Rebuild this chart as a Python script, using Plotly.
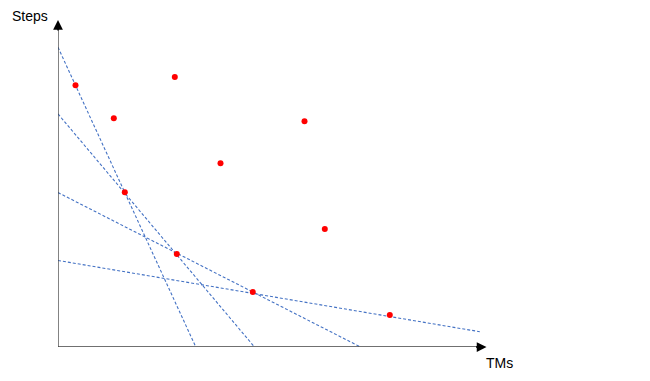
import plotly.graph_objects as go

# Scatter points (TMs, Steps) in chart units
tms = [17.5, 55.8, 116.8, 246.5, 162.5, 66.8, 266.8, 118.8, 194.8, 331.8]
steps = [262, 229, 270.3, 226, 184, 155, 118, 93, 55, 32]

# Dashed lines: start and end points
line_x0 = [0, 0, 0, 0]
line_y0 = [300, 233.3, 154.6, 86.6]
line_x1 = [137.8, 196.5, 302.5, 421.8]
line_y1 = [0, 0, 0, 15.3]

x_label = "TMs"
y_label = "Steps"

fig = go.Figure()
for x0, y0, x1, y1 in zip(line_x0, line_y0, line_x1, line_y1):
    fig.add_trace(go.Scatter(
        x=[x0, x1], y=[y0, y1], mode="lines",
        line=dict(color="#4472C4", width=1.1, dash="3px,2px"),
        hoverinfo="skip", showlegend=False))

fig.add_trace(go.Scatter(
    x=tms, y=steps, mode="markers",
    marker=dict(color="#FF0000", size=6, line=dict(width=0)),
    showlegend=False))

X_MAX = 442
Y_MAX = 337.3
fig.update_layout(
    width=650, height=381,
    margin=dict(l=50, r=158, t=2, b=41.7),
    plot_bgcolor="white", paper_bgcolor="white",
    xaxis=dict(range=[0, X_MAX], visible=False, fixedrange=True),
    yaxis=dict(range=[0, Y_MAX], visible=False, fixedrange=True),
    font=dict(family="Liberation Sans, Arial, sans-serif", size=14, color="black"),
)

axis_color = "#404040"
# Axis lines
fig.add_shape(type="line", x0=0, y0=0, x1=0, y1=320, xref="x", yref="y",
              line=dict(color=axis_color, width=1.3))
fig.add_shape(type="line", x0=0, y0=0, x1=421, y1=0, xref="x", yref="y",
              line=dict(color=axis_color, width=1.3))
# Arrowheads
fig.add_annotation(x=0, y=327.3, xref="x", yref="y", ax=0, ay=12, axref="pixel", ayref="pixel",
                   text="", showarrow=True, arrowhead=2, arrowsize=1.3, arrowwidth=1.5,
                   arrowcolor="black")
fig.add_annotation(x=428.5, y=0, xref="x", yref="y", ax=-12, ay=0, axref="pixel", ayref="pixel",
                   text="", showarrow=True, arrowhead=2, arrowsize=1.3, arrowwidth=1.5,
                   arrowcolor="black")
# Axis titles
fig.add_annotation(x=-0.1086, y=0.982, xref="paper", yref="paper", text=y_label, showarrow=False,
                   xanchor="left", yanchor="middle")
fig.add_annotation(x=0.9638, y=-0.0465, xref="paper", yref="paper", text=x_label, showarrow=False,
                   xanchor="left", yanchor="middle")

fig.write_html("out.html")
